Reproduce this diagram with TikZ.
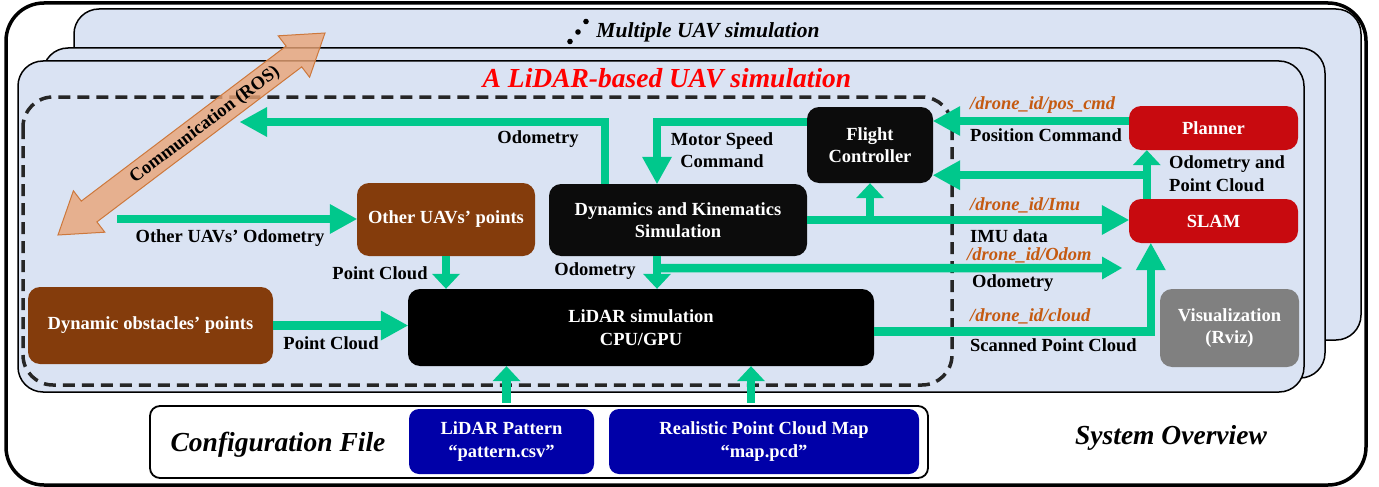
\documentclass[tikz,border=0pt]{standalone}
\usepackage{fontspec}
\setmainfont{Liberation Serif}
\usepackage{xcolor}
\usetikzlibrary{arrows.meta}
\usetikzlibrary{calc}

\definecolor{panelblue}{RGB}{218,227,243}
\definecolor{flowgreen}{RGB}{0,200,140}
\definecolor{boxbrown}{RGB}{132,60,12}
\definecolor{boxred}{RGB}{200,10,15}
\definecolor{boxblue}{RGB}{0,0,168}
\definecolor{boxgray}{RGB}{128,128,128}
\definecolor{boxblack}{RGB}{12,12,12}
\definecolor{topicorange}{RGB}{197,90,17}
\definecolor{commorange}{RGB}{234,164,118}
\definecolor{commedge}{RGB}{205,120,60}

\newcommand{\flowfont}{\fontsize{18.5}{22.5}\selectfont\bfseries}
\newcommand{\titlefont}{\fontsize{27.5}{30}\selectfont\bfseries\itshape}

\begin{document}
\begin{tikzpicture}[x=1pt,y=-1pt,
	box/.style={rounded corners=12pt, text=white, font=\flowfont, align=center, inner sep=0pt},
	panel/.style={draw=black, line width=1.5pt, fill=panelblue, rounded corners=25pt},
	flow/.style={draw=flowgreen, line width=8.5pt, -{Triangle[length=27pt,width=30pt,line width=0pt]}},
	flowshort/.style={flow, -{Triangle[length=15pt,width=28pt,line width=0pt]}},
	flowmid/.style={flow, -{Triangle[length=20pt,width=23pt,line width=0pt]}},
	lbl/.style={font=\flowfont, inner sep=0pt},
	topic/.style={font=\flowfont\itshape, text=topicorange, inner sep=0pt, anchor=west}]
			%\draw[help lines] (0,0) grid (1379,487);
			\useasboundingbox (0,0) rectangle (1379,487);
			
			% frame and the stacked UAV panels
			\draw[line width=3.5pt, rounded corners=38pt, fill=white] (6,3) rectangle (1366,485);
			\draw[panel] (74,9) rectangle (1361,340);
			\draw[panel] (43,48) rectangle (1325,378);
			\draw[panel] (18,61) rectangle (1304,392);
			\draw[line width=3.5pt, dash pattern=on 12pt off 7pt, rounded corners=30pt, draw=black!85] (23,97) rectangle (952,385);
			
			\fill (570,41.5) circle (2.8pt) (578,32) circle (2.8pt) (586,21.5) circle (2.8pt);
			\node[font=\fontsize{21.5}{24}\selectfont\bfseries\itshape] (multi) at (708,32) {Multiple UAV simulation};
			\node[font=\titlefont, text=red] (single) at (667,78) {A LiDAR-based UAV simulation};
			
			% modules
			\node[box, fill=boxblack, minimum width=126pt, minimum height=76pt] (fc) at (870,145) {Flight\\Controller};
			\node[box, fill=boxred, minimum width=169pt, minimum height=44pt] (planner) at (1213.5,128) {Planner};
			\node[box, fill=boxred, minimum width=169pt, minimum height=44pt] (slam) at (1213.5,221) {SLAM};
			\node[box, fill=boxgray, minimum width=139pt, minimum height=78pt] (viz) at (1229.5,328) {Visualization\\(Rviz)};
			\node[box, fill=boxblack, minimum width=258pt, minimum height=72pt] (dyn) at (678,220) {Dynamics and Kinematics\\Simulation};
			\node[box, fill=boxbrown, minimum width=178pt, minimum height=73pt] (other) at (446,219.5) {Other UAVs’ points};
			\node[box, fill=black, minimum width=466pt, minimum height=77pt] (lidar) at (641,327.5) {LiDAR simulation\\CPU/GPU};
			\node[box, fill=boxbrown, minimum width=245pt, minimum height=77pt] (obst) at (150.5,325.5) {Dynamic obstacles’ points};
			
			% configuration
			\node[draw, line width=1.8pt, fill=white, rounded corners=10pt, minimum width=778pt, minimum height=72pt] (cfg) at (539,442) {};
			\node[font=\titlefont] (cfgtitle) at (278,445) {Configuration File};
			\node[box, fill=boxblue, rounded corners=10pt, minimum width=185pt, minimum height=65pt] (pattern) at (501.5,441.5) {LiDAR Pattern\\“pattern.csv”};
			\node[box, fill=boxblue, rounded corners=10pt, minimum width=310pt, minimum height=65pt] (map) at (764,441.5) {Realistic Point Cloud Map\\“map.pcd”};
			\node[font=\titlefont] (sysov) at (1171,438) {System Overview};
			
			% data flow
			\coordinate (odoL) at (240,122);
			\draw[flow] ($(dyn.north)+(-73,0)$) |- (odoL);
			\coordinate (msc) at ($(dyn.north)+(-21,0)$);
			\draw[flow] ($(fc.north west)+(0,15)$) -| (msc);
			\draw[flowshort] (fc.south |- dyn.east) -- (fc.south);
			\draw[flow] (dyn.east) -- (dyn.east -| slam.west);
			\coordinate (pc) at ($(planner.west)+(0,-7)$);
			\draw[flow] (pc) -- (pc -| fc.east);
			\coordinate (sl) at ($(slam.north west)+(18,0)$);
			\coordinate (flb) at ($(fc.south east)+(0,-8)$);
			\draw[flow] (sl) |- (flb);
			\draw[flowshort] (sl) -- (sl |- planner.south);
			\coordinate (odoD) at ($(dyn.south)+(-21,0)$);
			\draw[flowshort] (odoD) -- (odoD |- lidar.north);
			\coordinate (odoR) at (1122,268);
			\draw[flowmid] ($(odoD)+(0,12)$) -- (odoR);
			\coordinate (scan) at ($(slam.south west)+(22,0)$);
			\draw[flow] ($(lidar.east)+(0,4)$) -| (scan);
			\coordinate (odoIn) at (117,219);
			\draw[flow] (odoIn) -- (odoIn -| other.west);
			\draw[flowshort] (other.south) -- (other.south |- lidar.north);
			\draw[flow] (obst.east) -- (obst.east -| lidar.west);
			\coordinate (patUp) at ($(pattern.north)+(5,-6)$);
			\coordinate (mapUp) at ($(map.north)+(-13,-6)$);
			\draw[flowshort] (patUp) -- (patUp |- lidar.south);
			\draw[flowshort] (mapUp) -- (mapUp |- lidar.south);
			
			% labels
			\node[lbl] (lOdoUp) at (538,139) {Odometry};
			\node[lbl, align=center] (lMotor) at (722,150) {Motor Speed\\Command};
			\node[topic] (lPosTopic) at (970,105) {/drone\_id/pos\_cmd};
			\node[lbl, anchor=west] (lPos) at (970,135) {Position Command};
			\node[lbl, anchor=west, align=left] (lOdoPC) at (1169,173.5) {Odometry and\\Point Cloud};
			\node[topic] (lImuTopic) at (970,205) {/drone\_id/Imu};
			\node[lbl, anchor=west] (lImu) at (970,236) {IMU data};
			\node[topic] (lOdomTopic) at (967,255) {/drone\_id/Odom};
			\node[lbl, anchor=west] (lOdo) at (972,283) {Odometry};
			\node[topic] (lCloudTopic) at (970,316) {/drone\_id/cloud};
			\node[lbl, anchor=west] (lScan) at (970,345) {Scanned Point Cloud};
			\node[lbl] (lOdoDown) at (595,271) {Odometry};
			\node[lbl] (lPcOther) at (380,273) {Point Cloud};
			\node[lbl] (lPcObst) at (331,343) {Point Cloud};
			\node[lbl] (lOdoOther) at (230,238) {Other UAVs’ Odometry};
			
			% communication between the UAVs
			\filldraw[fill=commorange, fill opacity=0.8, draw=commedge, line width=1pt, line join=miter]
			(325,33) -- (309.6,77.2) -- (301.7,66.9) -- (96.9,221.9) -- (104.8,232.2) -- (58,235)
			-- (73.4,190.8) -- (81.3,201.1) -- (286.1,46.1) -- (278.2,35.8) -- cycle;
			\node[lbl, rotate=37.1] (comm) at (205,125) {Communication (ROS)};
			
\end{tikzpicture}
\end{document}
